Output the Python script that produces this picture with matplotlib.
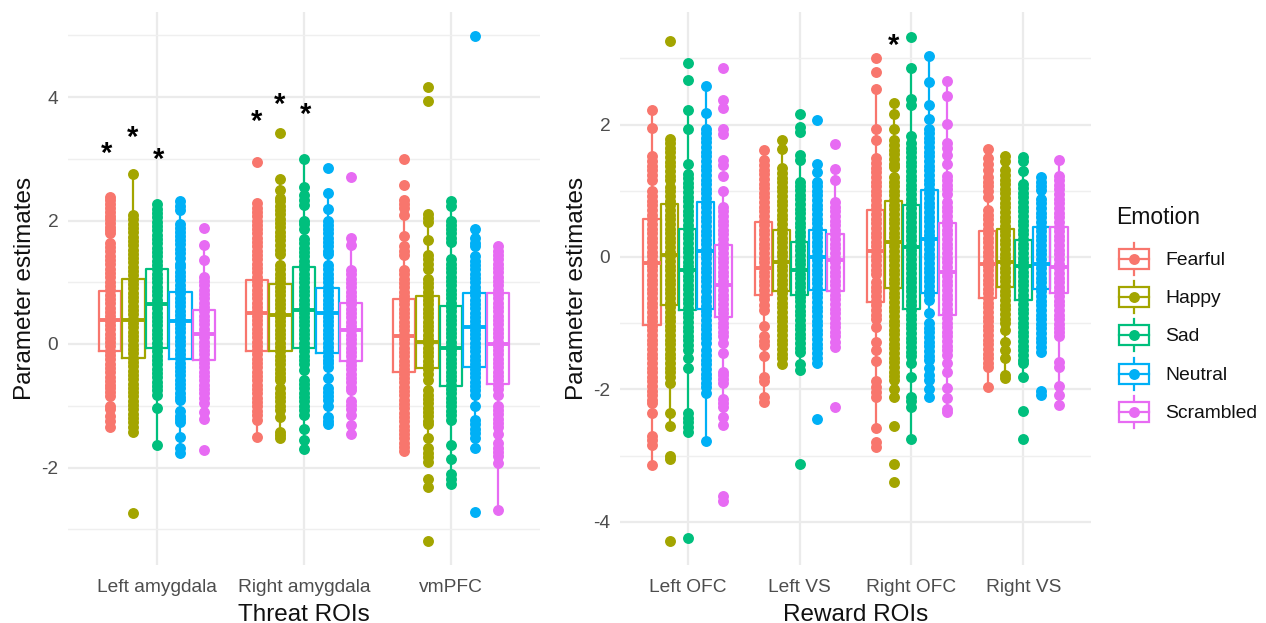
import matplotlib
matplotlib.use("Agg")
import matplotlib.pyplot as plt
from matplotlib.patches import Rectangle

plt.rcParams['font.family'] = ['Liberation Sans', 'DejaVu Sans']

emotions = ["Fearful", "Happy", "Sad", "Neutral", "Scrambled"]
colors = ["#F8766D", "#A3A500", "#00BF7D", "#00B0F6", "#E76BF3"]
threat_rois = ["Left amygdala", "Right amygdala", "vmPFC"]
reward_rois = ["Left OFC", "Left VS", "Right OFC", "Right VS"]

# threat ROIs, points
la_fearful = [2.38,2.33,2.26,2.2,2.14,2.08,2.02,1.96,1.9,1.84,1.8,1.64,1.57,1.5,1.43,1.36,1.29,1.22,1.15,1.08,1.01,.94,.87,.8,.73,.66,.59,.52,.45,.38,.31,.24,.17,.1,.03,-.04,-.11,-.18,-.25,-.32,-.39,-.46,-.53,-.6,-.67,-.72,-.78,-.85,-1.0,-1.05,-1.17,-1.24,-1.34]
la_happy = [2.76,2.09,2.02,1.95,1.88,1.81,1.74,1.67,1.6,1.53,1.46,1.39,1.32,1.25,1.18,1.11,1.04,.97,.9,.83,.76,.69,.62,.55,.48,.41,.34,.27,.2,.13,.06,-.01,-.08,-.15,-.22,-.29,-.36,-.43,-.5,-.57,-.64,-.71,-.78,-.85,-.92,-.99,-1.06,-1.13,-1.2,-1.27,-1.34,-1.42,-2.74]
la_sad = [2.26,2.19,2.12,2.05,1.98,1.91,1.84,1.77,1.7,1.63,1.56,1.49,1.42,1.35,1.28,1.21,1.14,1.07,1.0,.93,.86,.79,.72,.65,.58,.51,.44,.37,.3,.23,.16,.09,.02,-.05,-.12,-.19,-.26,-.33,-.4,-.47,-.54,-.61,-.68,-.75,-.83,-1.03,-1.63]
la_neutral = [2.32,2.24,2.17,1.94,1.88,1.81,1.75,1.68,1.62,1.54,1.47,1.4,1.3,1.24,1.17,1.1,1.03,.96,.89,.82,.75,.68,.61,.54,.47,.4,.33,.26,.19,.12,.05,-.02,-.09,-.16,-.23,-.3,-.37,-.44,-.51,-.58,-.65,-.72,-.79,-.86,-.9,-1.09,-1.16,-1.22,-1.26,-1.51,-1.69,-1.77]
la_scrambled = [1.88,1.6,1.36,1.09,1.02,.95,.88,.81,.74,.67,.6,.53,.46,.39,.32,.25,.18,.11,.04,-.03,-.1,-.17,-.24,-.31,-.38,-.45,-.52,-.59,-.66,-.73,-.8,-.88,-.96,-1.1,-1.22,-1.72]
ra_fearful = [2.94,2.28,2.21,2.14,2.07,2.0,1.93,1.86,1.79,1.72,1.65,1.58,1.51,1.44,1.37,1.3,1.23,1.16,1.09,1.02,.95,.88,.81,.74,.67,.6,.53,.46,.39,.32,.25,.18,.11,.04,-.03,-.1,-.17,-.24,-.31,-.38,-.45,-.52,-.59,-.66,-.73,-.8,-.87,-.94,-1.01,-1.08,-1.15,-1.23,-1.5]
ra_happy = [3.41,2.68,2.5,2.37,2.31,2.24,2.17,2.1,2.03,1.96,1.89,1.82,1.75,1.68,1.6,1.53,1.46,1.28,1.21,1.14,1.07,1.0,.93,.86,.79,.72,.65,.58,.51,.44,.37,.3,.23,.16,.09,.02,-.05,-.12,-.19,-.26,-.33,-.4,-.47,-.54,-.59,-.72,-.79,-.86,-.93,-1.0,-1.07,-1.18,-1.42,-1.48,-1.53]
ra_sad = [2.99,2.55,2.41,2.33,2.25,2.0,1.94,1.87,1.7,1.63,1.56,1.49,1.42,1.35,1.28,1.21,1.14,1.07,1.0,.93,.86,.79,.72,.65,.58,.51,.44,.37,.3,.23,.16,.09,.02,-.05,-.12,-.19,-.26,-.33,-.42,-.58,-.65,-.72,-.79,-.86,-.93,-1.0,-1.07,-1.15,-1.37,-1.56,-1.7]
ra_neutral = [2.85,2.45,2.19,2.0,1.93,1.86,1.79,1.72,1.65,1.58,1.51,1.46,1.28,1.21,1.14,1.07,1.0,.93,.86,.79,.72,.65,.58,.51,.44,.37,.3,.23,.16,.09,.02,-.05,-.12,-.19,-.26,-.31,-.37,-.55,-.72,-.78,-.84,-.9,-1.0,-1.18,-1.24,-1.29]
ra_scrambled = [2.7,1.72,1.6,1.2,1.13,1.06,.99,.92,.85,.78,.71,.64,.57,.5,.43,.36,.29,.22,.15,.08,.01,-.06,-.13,-.2,-.27,-.34,-.41,-.48,-.55,-.62,-.69,-.75,-.93,-.99,-1.05,-1.15,-1.31,-1.45]
vm_fearful = [2.99,2.57,2.33,2.26,2.2,2.09,1.75,1.58,1.51,1.44,1.2,1.13,1.06,.99,.92,.85,.78,.71,.64,.57,.5,.43,.36,.29,.22,.15,.08,.01,-.06,-.13,-.2,-.27,-.34,-.41,-.48,-.55,-.62,-.69,-.76,-.83,-.9,-.97,-1.04,-1.11,-1.18,-1.25,-1.32,-1.39,-1.46,-1.53,-1.6,-1.67,-1.74]
vm_happy = [4.17,3.93,2.1,2.04,1.98,1.68,1.44,1.37,1.3,1.22,1.06,.99,.92,.85,.78,.71,.64,.57,.5,.43,.36,.29,.22,.15,.08,.01,-.06,-.13,-.2,-.27,-.34,-.41,-.48,-.58,-.75,-.82,-.89,-.96,-1.03,-1.1,-1.17,-1.24,-1.3,-1.53,-1.69,-1.76,-1.83,-1.91,-2.18,-2.32,-3.19]
vm_sad = [2.32,2.24,2.0,1.93,1.87,1.8,1.72,1.65,1.37,1.3,1.23,1.16,1.09,1.02,.95,.88,.81,.74,.67,.6,.53,.46,.39,.32,.25,.18,.11,.04,-.03,-.1,-.17,-.24,-.31,-.38,-.45,-.52,-.59,-.66,-.73,-.8,-.87,-.94,-1.01,-1.08,-1.15,-1.23,-1.64,-1.87,-2.1,-2.18,-2.26]
vm_neutral = [4.98,1.87,1.71,1.64,1.58,1.42,1.35,1.28,1.21,1.14,1.07,1.0,.93,.86,.79,.72,.65,.58,.51,.44,.37,.3,.23,.16,.09,.02,-.05,-.12,-.19,-.26,-.33,-.4,-.47,-.54,-.61,-.68,-.75,-.83,-1.0,-1.23,-1.3,-1.37,-1.44,-1.53,-1.69,-2.72]
vm_scrambled = [1.58,1.51,1.44,1.37,1.3,1.23,1.16,1.09,1.02,.95,.88,.81,.74,.67,.6,.53,.46,.39,.32,.25,.18,.11,.04,-.03,-.1,-.17,-.24,-.31,-.38,-.45,-.52,-.59,-.66,-.73,-.83,-1.0,-1.07,-1.14,-1.21,-1.28,-1.35,-1.45,-1.61,-1.68,-1.75,-1.82,-1.93,-2.69]

# reward ROIs
lo_fearful = [2.22,1.95,1.52,1.45,1.38,1.31,1.24,1.16,.99,.92,.85,.78,.71,.64,.57,.5,.43,.36,.29,.22,.15,.08,.01,-.06,-.13,-.2,-.27,-.34,-.41,-.48,-.55,-.62,-.69,-.76,-.83,-.9,-.97,-1.04,-1.11,-1.18,-1.25,-1.32,-1.39,-1.46,-1.53,-1.6,-1.67,-1.74,-1.81,-1.88,-1.95,-2.02,-2.09,-2.16,-2.21,-2.36,-2.71,-2.77,-2.84,-3.14]
lo_happy = [3.27,1.79,1.72,1.65,1.58,1.51,1.44,1.37,1.3,1.23,1.16,1.06,.99,.92,.85,.78,.71,.64,.57,.5,.43,.36,.29,.22,.15,.08,.01,-.06,-.13,-.2,-.27,-.34,-.41,-.48,-.55,-.62,-.69,-.76,-.83,-.9,-.97,-1.04,-1.11,-1.18,-1.25,-1.32,-1.39,-1.46,-1.53,-1.6,-1.67,-1.74,-1.81,-1.91,-2.36,-2.55,-3.0,-3.05,-4.29]
lo_sad = [2.93,2.68,2.22,1.94,1.41,1.26,1.19,1.12,1.05,.98,.91,.84,.77,.7,.63,.56,.49,.42,.35,.28,.21,.14,.07,0,-.07,-.14,-.21,-.28,-.35,-.42,-.49,-.56,-.63,-.7,-.77,-.84,-.91,-.98,-1.05,-1.12,-1.19,-1.26,-1.33,-1.41,-1.53,-1.67,-2.36,-2.43,-2.5,-2.57,-2.64,-4.24]
lo_neutral = [2.58,2.17,1.94,1.87,1.8,1.73,1.66,1.59,1.52,1.45,1.38,1.31,1.24,1.17,1.1,1.03,.96,.89,.82,.75,.68,.61,.54,.47,.4,.33,.26,.19,.12,.05,-.02,-.09,-.16,-.23,-.3,-.37,-.44,-.51,-.6,-.67,-.74,-.81,-.88,-.95,-1.02,-1.09,-1.16,-1.23,-1.3,-1.41,-1.48,-1.55,-1.62,-1.69,-1.76,-1.83,-1.9,-1.97,-2.06,-2.78]
lo_scrambled = [2.85,2.37,2.25,1.94,1.86,1.46,1.39,1.22,1.0,.76,.69,.62,.55,.48,.41,.34,.27,.2,.13,.06,-.01,-.08,-.15,-.22,-.29,-.36,-.43,-.5,-.57,-.64,-.71,-.78,-.85,-.92,-.99,-1.06,-1.13,-1.2,-1.3,-1.45,-1.73,-1.79,-1.85,-1.91,-2.14,-2.2,-2.26,-2.41,-2.54,-3.61,-3.69]
lv_fearful = [1.62,1.46,1.39,1.32,1.25,1.18,1.11,1.04,.97,.9,.83,.76,.69,.62,.55,.48,.41,.34,.27,.2,.13,.06,-.01,-.08,-.15,-.22,-.29,-.36,-.43,-.5,-.57,-.64,-.72,-.8,-1.04,-1.2,-1.27,-1.33,-1.5,-1.81,-1.88,-2.11,-2.19]
lv_happy = [1.77,1.63,1.34,1.27,1.2,1.13,1.06,.99,.92,.85,.78,.71,.64,.57,.5,.43,.36,.29,.22,.15,.08,.01,-.06,-.13,-.2,-.27,-.34,-.41,-.48,-.55,-.62,-.69,-.76,-.83,-.9,-.97,-1.04,-1.1,-1.18,-1.25,-1.32,-1.39,-1.46,-1.53,-1.61]
lv_sad = [2.16,1.97,1.89,1.54,1.46,1.14,1.07,1.01,.94,.87,.8,.73,.66,.59,.52,.45,.38,.31,.24,.17,.1,.03,-.04,-.11,-.18,-.25,-.32,-.39,-.46,-.53,-.6,-.67,-.74,-.81,-.88,-.95,-1.02,-1.09,-1.16,-1.23,-1.3,-1.37,-1.43,-1.61,-1.71,-3.12]
lv_neutral = [2.07,1.41,1.29,1.14,1.07,1.0,.93,.86,.79,.72,.65,.58,.51,.44,.37,.3,.23,.16,.09,.02,-.05,-.12,-.19,-.26,-.33,-.4,-.47,-.54,-.61,-.68,-.75,-.82,-.89,-.96,-1.03,-1.1,-1.17,-1.24,-1.31,-1.38,-1.45,-1.52,-1.6,-2.45]
lv_scrambled = [1.71,1.33,1.17,.83,.76,.69,.62,.55,.48,.41,.34,.27,.2,.13,.06,-.01,-.08,-.15,-.22,-.29,-.36,-.43,-.5,-.57,-.64,-.71,-.78,-.85,-.92,-.99,-1.06,-1.13,-1.2,-1.28,-1.36,-2.26]
ro_fearful = [3.0,2.79,2.54,1.93,1.77,1.49,1.42,1.35,1.28,1.21,1.14,1.07,1.0,.93,.86,.79,.72,.65,.58,.51,.44,.37,.3,.23,.16,.09,.02,-.05,-.12,-.19,-.25,-.38,-.45,-.52,-.59,-.66,-.73,-.8,-.87,-.94,-1.05,-1.28,-1.41,-1.57,-1.88,-1.96,-2.04,-2.11,-2.59,-2.79,-2.87]
ro_happy = [2.32,2.16,1.93,1.76,1.69,1.62,1.55,1.48,1.41,1.36,1.21,1.14,1.07,1.0,.93,.86,.79,.72,.65,.58,.51,.44,.37,.3,.23,.16,.09,.02,-.05,-.12,-.19,-.26,-.33,-.4,-.47,-.54,-.61,-.68,-.75,-.82,-.89,-.96,-1.03,-1.1,-1.17,-1.24,-1.31,-1.38,-1.45,-1.52,-1.59,-1.66,-1.73,-1.8,-1.86,-2.0,-2.11,-2.55,-3.13,-3.4]
ro_sad = [3.33,2.86,2.38,2.3,1.83,1.72,1.65,1.58,1.51,1.44,1.37,1.3,1.23,1.16,1.09,1.02,.95,.88,.81,.74,.67,.6,.53,.46,.39,.32,.25,.18,.11,.04,-.03,-.1,-.17,-.24,-.31,-.38,-.45,-.52,-.59,-.66,-.73,-.8,-.87,-.94,-1.01,-1.08,-1.15,-1.22,-1.29,-1.36,-1.43,-1.5,-1.6,-1.81,-2.11,-2.18,-2.26,-2.75]
ro_neutral = [3.03,2.65,2.3,2.08,1.94,1.87,1.8,1.73,1.66,1.59,1.52,1.45,1.38,1.31,1.24,1.17,1.1,1.03,.96,.89,.82,.75,.68,.61,.54,.47,.4,.33,.26,.19,.12,.05,-.02,-.09,-.16,-.23,-.3,-.37,-.44,-.51,-.58,-.65,-.85,-1.0,-1.07,-1.14,-1.21,-1.28,-1.35,-1.42,-1.49,-1.56,-1.68,-1.78,-1.86,-2.0,-2.11]
ro_scrambled = [2.66,2.43,2.01,1.72,1.65,1.54,1.41,1.23,1.16,1.09,1.02,.95,.83,.76,.69,.62,.55,.48,.41,.34,.27,.2,.13,.06,-.01,-.08,-.15,-.22,-.29,-.36,-.43,-.5,-.57,-.64,-.71,-.78,-.85,-.92,-.99,-1.06,-1.13,-1.2,-1.27,-1.34,-1.41,-1.48,-1.6,-1.74,-1.98,-2.13,-2.29,-2.34]
rv_fearful = [1.63,1.49,1.4,1.31,1.21,1.14,1.07,1.0,.91,.71,.64,.57,.5,.43,.36,.29,.22,.15,.08,.01,-.06,-.13,-.2,-.27,-.34,-.41,-.48,-.55,-.62,-.69,-.76,-.83,-.9,-.97,-1.04,-1.11,-1.18,-1.25,-1.32,-1.39,-1.46,-1.53,-1.6,-1.66,-1.96]
rv_happy = [1.52,1.45,1.31,1.24,1.17,1.1,1.03,.96,.89,.82,.75,.68,.61,.54,.47,.4,.33,.26,.19,.12,.05,-.02,-.09,-.16,-.23,-.3,-.37,-.44,-.51,-.58,-.65,-.72,-.79,-.86,-.93,-1.0,-1.1,-1.28,-1.4,-1.52,-1.78,-1.83]
rv_sad = [1.51,1.45,1.3,1.11,1.04,.97,.9,.83,.76,.69,.62,.55,.48,.41,.34,.27,.2,.13,.06,-.01,-.08,-.15,-.22,-.29,-.36,-.43,-.5,-.57,-.64,-.71,-.78,-.85,-.92,-.99,-1.06,-1.13,-1.2,-1.27,-1.34,-1.41,-1.48,-1.55,-1.6,-1.82,-2.32,-2.75]
rv_neutral = [1.21,1.14,1.08,1.01,.88,.81,.74,.67,.6,.53,.46,.39,.32,.25,.18,.11,.04,-.03,-.1,-.17,-.24,-.31,-.38,-.45,-.52,-.59,-.66,-.73,-.8,-.87,-.94,-1.01,-1.08,-1.15,-1.22,-1.29,-1.36,-1.43,-2.03,-2.08]
rv_scrambled = [1.47,1.23,1.16,1.09,1.02,.95,.88,.81,.74,.67,.6,.53,.46,.39,.32,.25,.18,.11,.04,-.03,-.1,-.17,-.24,-.31,-.38,-.45,-.52,-.59,-.66,-.73,-.8,-.87,-.94,-1.01,-1.08,-1.14,-1.2,-1.58,-1.66,-1.95,-2.09,-2.24]

# box stats, one row per ROI, one value per emotion
threat_q1 = [[-.11,-.22,-.07,-.25,-.26], [-.11,-.12,-.07,-.14,-.27], [-.45,-.39,-.68,-.38,-.64]]
threat_med = [[.39,.39,.64,.38,.17], [.51,.47,.55,.51,.23], [.13,.03,-.06,.28,.0]]
threat_q3 = [[.86,1.05,1.21,.85,.55], [1.04,.97,1.24,.91,.66], [.73,.78,.62,.82,.82]]
threat_lo = [[-1.34,-1.45,-1.62,-1.77,-1.22], [-1.5,-1.53,-1.72,-1.29,-1.45], [-1.74,-1.92,-2.26,-1.69,-2.69]]
threat_hi = [[2.38,2.76,2.26,2.32,1.6], [2.28,2.68,2.99,2.45,1.72], [2.33,2.1,2.32,1.87,1.58]]
reward_q1 = [[-1.03,-.73,-.8,-.78,-.9], [-.57,-.51,-.57,-.5,-.51], [-.68,-.47,-.78,-.54,-.88], [-.62,-.45,-.65,-.48,-.54]]
reward_med = [[-.09,.03,-.2,.09,-.42], [-.17,-.07,-.2,0,-.05], [.09,.22,.15,.27,-.22], [-.1,-.07,-.14,-.1,-.15]]
reward_q3 = [[.58,.8,.42,.83,.18], [.53,.41,.23,.41,.34], [.71,.85,.78,1.01,.52], [.4,.43,.25,.46,.45]]
reward_lo = [[-3.14,-2.55,-2.64,-2.78,-2.54], [-2.19,-1.61,-1.71,-1.6,-1.36], [-2.59,-2.11,-2.75,-2.11,-2.34], [-1.96,-1.83,-1.82,-1.43,-2.24]]
reward_hi = [[2.22,1.79,2.22,2.58,1.0], [1.62,1.77,1.46,1.41,1.33], [2.54,2.32,2.86,3.03,2.66], [1.63,1.52,1.51,1.21,1.47]]

threat_points = [[la_fearful, la_happy, la_sad, la_neutral, la_scrambled],
                 [ra_fearful, ra_happy, ra_sad, ra_neutral, ra_scrambled],
                 [vm_fearful, vm_happy, vm_sad, vm_neutral, vm_scrambled]]
reward_points = [[lo_fearful, lo_happy, lo_sad, lo_neutral, lo_scrambled],
                 [lv_fearful, lv_happy, lv_sad, lv_neutral, lv_scrambled],
                 [ro_fearful, ro_happy, ro_sad, ro_neutral, ro_scrambled],
                 [rv_fearful, rv_happy, rv_sad, rv_neutral, rv_scrambled]]

# significance stars
threat_star_x = [0.66, 0.837, 1.012, 1.678, 1.837, 2.012]
threat_star_y = [3.13, 3.40, 3.03, 3.65, 3.93, 3.76]
reward_star_x = [2.84]
reward_star_y = [3.24]

W, H = 1266, 623
DOT = 62
fig = plt.figure(figsize=(W / 100, H / 100), dpi=100)

def px_axes(x0, x1, y_top, y_bottom):
    return fig.add_axes([x0 / W, 1 - y_bottom / H, (x1 - x0) / W, (y_bottom - y_top) / H])

def panel(ax, rois, points, q1, med, q3, lo, hi, xlab, star_x, star_y):
    for i in range(len(rois)):
        for j in range(5):
            pos = i + 1 + (j - 2) * 0.16
            c = colors[j]
            stats = [dict(med=med[i][j], q1=q1[i][j], q3=q3[i][j], whislo=lo[i][j], whishi=hi[i][j], fliers=[])]
            ax.bxp(stats, positions=[pos], widths=0.155, showfliers=False, showcaps=False,
                   boxprops=dict(color=c, lw=1.6), whiskerprops=dict(color=c, lw=1.6),
                   medianprops=dict(color=c, lw=2.8, solid_capstyle='butt'),
                   manage_ticks=False, zorder=3)
            ax.scatter([pos] * len(points[i][j]), points[i][j], s=DOT, color=c, linewidths=0, zorder=4)
    ax.set_xlim(0.395, len(rois) + 0.605)
    ax.set_xticks(range(1, len(rois) + 1))
    ax.set_xticklabels(rois)
    ax.set_xlabel(xlab, fontsize=17.5, color="#111111", labelpad=5.5)
    ax.set_ylabel("Parameter estimates", fontsize=17.5, color="#111111", labelpad=4)
    ax.tick_params(axis='both', length=0, labelsize=13.8, labelcolor="#4D4D4D")
    ax.tick_params(axis='x', pad=10)
    ax.tick_params(axis='y', pad=7)
    ax.set_axisbelow(True)
    ax.grid(True, which='major', color="#EBEBEB", lw=1.6)
    ax.grid(True, which='minor', axis='y', color="#EFEFEF", lw=1.0)
    for s in ax.spines.values():
        s.set_visible(False)
    for x, y in zip(star_x, star_y):
        ax.annotate("*", (x, y), xytext=(0, -2.5), textcoords='offset points', fontsize=21,
                    fontweight='bold', color='black', ha='center', va='center')

ax1 = px_axes(68, 540, 12, 565)
ax1.set_ylim((344 - 565) / 61.75, (344 - 12) / 61.75)
ax1.set_yticks([-2, 0, 2, 4])
ax1.set_yticklabels(["-2", "0", "2", "4"])
panel(ax1, threat_rois, threat_points, threat_q1, threat_med, threat_q3, threat_lo, threat_hi,
      "Threat ROIs", threat_star_x, threat_star_y)
ax1.set_yticks([-3, -1, 1, 3, 5], minor=True)
ax1.tick_params(axis='y', which='minor', length=0, labelleft=False)

ax2 = px_axes(620, 1091, 12, 565)
ax2.set_ylim((257 - 565) / 66.2, (257 - 12) / 66.2)
ax2.set_yticks([-4, -2, 0, 2])
ax2.set_yticklabels(["-4", "-2", "0", "2"])
panel(ax2, reward_rois, reward_points, reward_q1, reward_med, reward_q3, reward_lo, reward_hi,
      "Reward ROIs", reward_star_x, reward_star_y)
ax2.set_yticks([-3, -1, 1, 3], minor=True)
ax2.tick_params(axis='y', which='minor', length=0, labelleft=False)

# legend drawn by hand so the keys look like the ggplot ones
leg = px_axes(1100, 1266, 190, 440)
leg.set_xlim(1100, 1266)
leg.set_ylim(440, 190)
leg.axis('off')
leg.text(1116, 218, "Emotion", fontsize=16.5, color="#111111", va='center')
for k, (name, c) in enumerate(zip(emotions, colors)):
    yc = 259 + k * 38.2
    leg.plot([1134, 1134], [yc - 16, yc + 16], color=c, lw=1.6, zorder=2)
    leg.add_patch(Rectangle((1119, yc - 10), 30, 20, fc='white', ec=c, lw=1.6, zorder=3))
    leg.plot([1119, 1149], [yc, yc], color=c, lw=1.6, zorder=4)
    leg.scatter([1134], [yc], s=DOT, color=c, linewidths=0, zorder=5)
    leg.text(1165, yc + 1.5, name, fontsize=13.9, color="#111111", va='center')

fig.savefig("out.png", dpi=100)
